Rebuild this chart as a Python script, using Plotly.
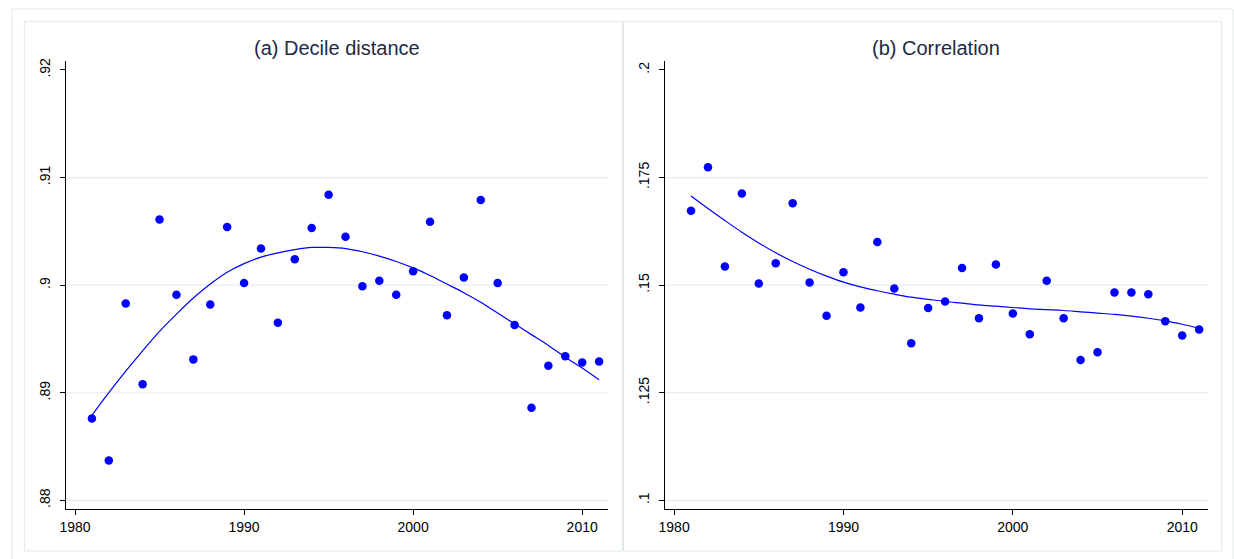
import plotly.graph_objects as go

years = list(range(1981, 2012))

# (a) decile distance, scatter points
decile = [
    0.8876, 0.8837, 0.8983, 0.8908, 0.9061, 0.8991, 0.8931, 0.8982, 0.9054, 0.9002,
    0.9034, 0.8965, 0.9024, 0.9053, 0.9084, 0.9045, 0.8999, 0.9004, 0.8991, 0.9013,
    0.9059, 0.8972, 0.9007, 0.9079, 0.9002, 0.8963, 0.8886, 0.8925, 0.8934, 0.8928,
    0.8929,
]
# fitted curve
decile_fit = [
    0.8879, 0.8900, 0.8920, 0.8939, 0.8957, 0.8973, 0.8988, 0.9001, 0.9012, 0.9020,
    0.9026, 0.9030, 0.9033, 0.9035, 0.9035, 0.9034, 0.9031, 0.9027, 0.9022, 0.9016,
    0.9009, 0.9001, 0.8993, 0.8984, 0.8974, 0.8964, 0.8954, 0.8944, 0.8933, 0.8923,
    0.8912,
]

# (b) correlation
corr = [
    0.1673, 0.1774, 0.1543, 0.1713, 0.1504, 0.1551, 0.1690, 0.1506, 0.1429, 0.1530,
    0.1448, 0.1600, 0.1492, 0.1365, 0.1447, 0.1462, 0.1540, 0.1423, 0.1548, 0.1434,
    0.1386, 0.1510, 0.1423, 0.1326, 0.1344, 0.1483, 0.1483, 0.1479, 0.1416, 0.1383,
    0.1397,
]
corr_fit = [
    0.1707, 0.1678, 0.1650, 0.1623, 0.1598, 0.1575, 0.1555, 0.1537, 0.1521, 0.1507,
    0.1496, 0.1487, 0.1479, 0.1472, 0.1467, 0.1462, 0.1458, 0.1454, 0.1451, 0.1448,
    0.1445, 0.1443, 0.1441, 0.1438, 0.1435, 0.1432, 0.1428, 0.1423, 0.1417, 0.1409,
    0.1400,
]

x_ticks = [1980, 1990, 2000, 2010]
left_ticks = [0.88, 0.89, 0.90, 0.91, 0.92]
left_labels = [".88", ".89", ".9", ".91", ".92"]
right_ticks = [0.10, 0.125, 0.15, 0.175, 0.20]
right_labels = [".1", ".125", ".15", ".175", ".2"]

BLUE = "#0000ff"
GRID = "#e6edef"
FRAME = "#e3eaec"
FONT = "Arial, Liberation Sans, Helvetica, sans-serif"

W, H = 1234, 559

fig = go.Figure()

for xa, ya, pts, fit in [("x", "y", decile, decile_fit), ("x2", "y2", corr, corr_fit)]:
    fig.add_trace(go.Scatter(
        x=years, y=pts, xaxis=xa, yaxis=ya, mode="markers",
        marker=dict(color=BLUE, size=8.5, line=dict(width=0)),
        showlegend=False, hoverinfo="x+y",
    ))
    fig.add_trace(go.Scatter(
        x=years, y=fit, xaxis=xa, yaxis=ya, mode="lines",
        line=dict(color=BLUE, width=1.2, shape="spline", smoothing=1.0),
        showlegend=False, hoverinfo="skip",
    ))


def px_x(p):
    return p / W


def px_y(p):
    return 1 - p / H


y_dom = [px_y(509), px_y(58.3)]
x_common = dict(
    range=[1979.45, 2011.53], tickvals=x_ticks, ticks="outside", ticklen=5,
    tickcolor="black", showline=True, linecolor="black", linewidth=1,
    showgrid=False, zeroline=False, tickfont=dict(size=14, color="black"),
)
y_common = dict(
    ticks="outside", ticklen=5, tickcolor="black", showline=True,
    linecolor="black", linewidth=1, showgrid=False, zeroline=False,
    tickangle=-90, tickfont=dict(size=14, color="black"), domain=y_dom,
    ticklabelstandoff=4,
)

fig.update_layout(
    width=W, height=H,
    margin=dict(l=0, r=0, t=0, b=0),
    paper_bgcolor="white", plot_bgcolor="white",
    font=dict(family=FONT),
    xaxis=dict(domain=[px_x(60), px_x(605)], anchor="y", **x_common),
    xaxis2=dict(domain=[px_x(662), px_x(1208)], anchor="y2", **x_common),
    yaxis=dict(anchor="x", range=[0.87917, 0.92083], tickvals=left_ticks,
               ticktext=left_labels, **y_common),
    yaxis2=dict(anchor="x2", range=[0.09792, 0.20208], tickvals=right_ticks,
                ticktext=right_labels, **y_common),
)

shapes = []
# light gridlines at every tick except the top one
for yref, xref, vals in [("y", "x domain", left_ticks[:-1]), ("y2", "x2 domain", right_ticks[:-1])]:
    for v in vals:
        shapes.append(dict(type="line", xref=xref, yref=yref, x0=0, x1=1, y0=v, y1=v,
                           line=dict(color=GRID, width=1.2), layer="below"))

# panel frames
frames = [(6, 6, 1233, 565), (18.5, 18.5, 619.5, 551), (620.5, 18.5, 1221.5, 551)]
for x0, y0, x1, y1 in frames:
    shapes.append(dict(type="rect", xref="paper", yref="paper",
                       x0=px_x(x0), x1=px_x(x1), y0=px_y(y1), y1=px_y(y0),
                       line=dict(color=FRAME, width=1), layer="below"))
fig.update_layout(shapes=shapes)

titles = [("(a) Decile distance", (60 + 605) / 2), ("(b) Correlation", (662 + 1208) / 2)]
for text, cx in titles:
    fig.add_annotation(text=text, xref="paper", yref="paper", x=px_x(cx), y=px_y(45),
                       xanchor="center", yanchor="middle", showarrow=False,
                       font=dict(size=20, color="#1e2a44"))

# drop the default page margin so the figure sits flush in the window
fig.write_html(
    "out.html",
    config={"displayModeBar": False},
    post_script="document.body.style.margin='0';document.body.style.overflow='hidden';",
)
